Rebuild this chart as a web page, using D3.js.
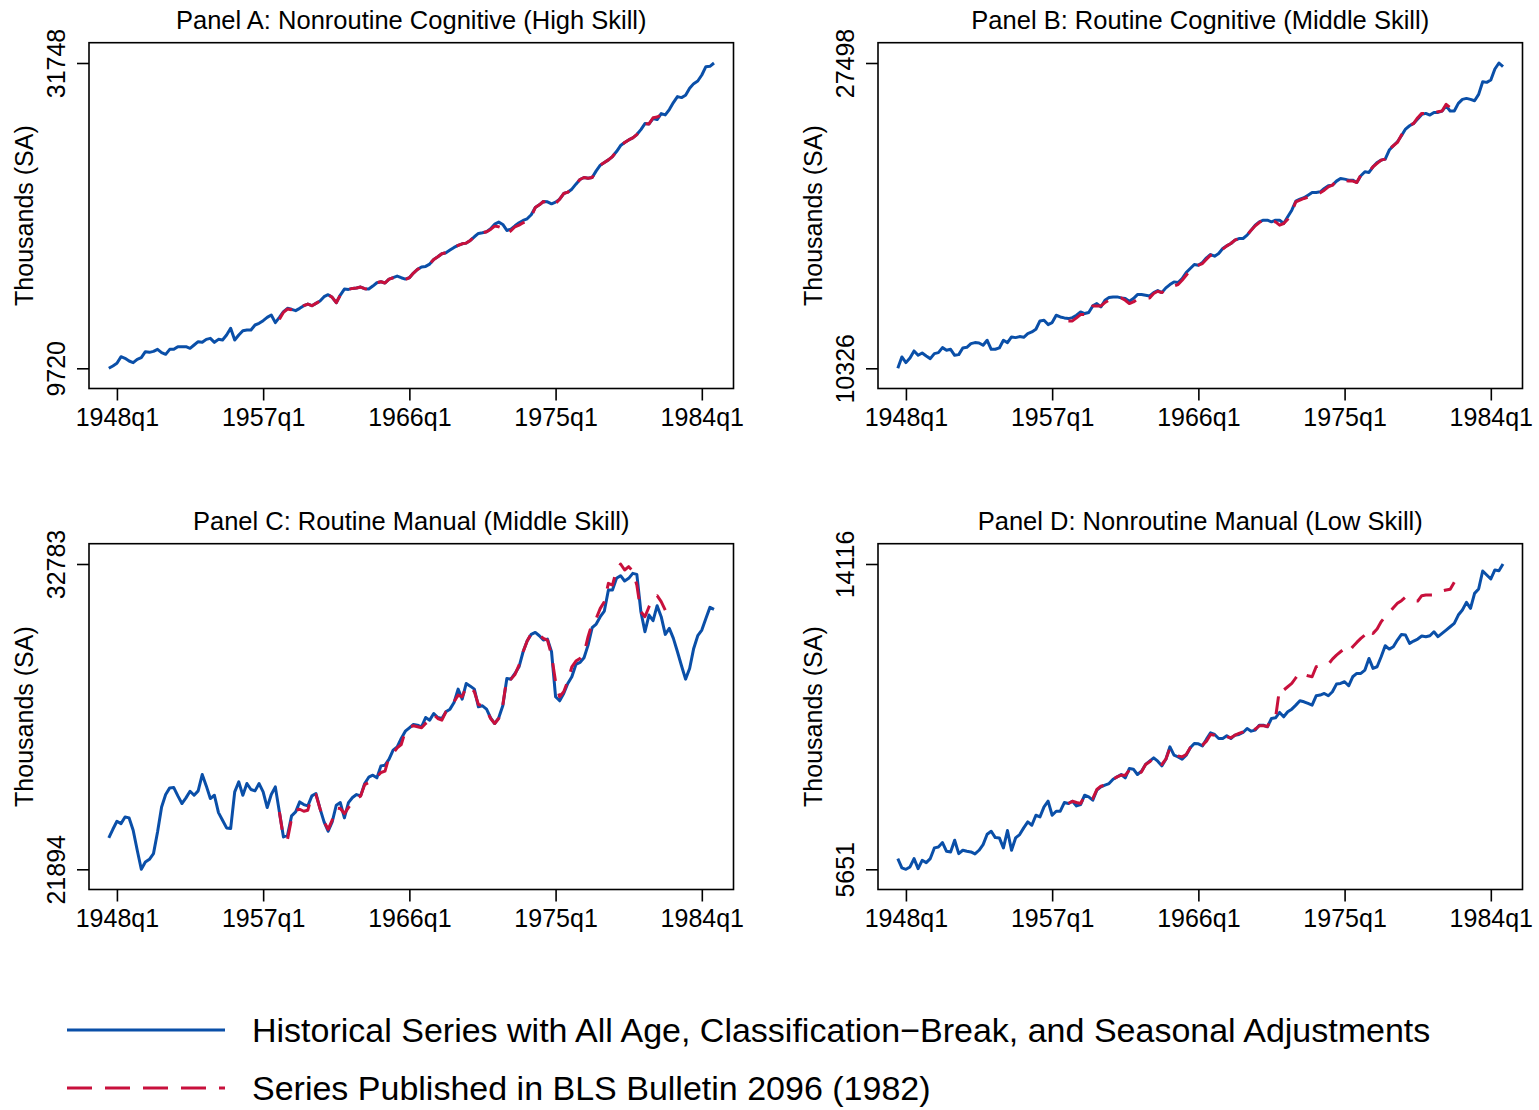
<!DOCTYPE html>
<meta charset="utf-8">
<script src="https://d3js.org/d3.v7.min.js"></script>
<body style="margin:0;background:#fff">
<div id="chart"></div>
<script>

// quarterly series: historical runs 1947q3-1984q4, bulletin runs 1958q1-1981q4
var histStart = 1947.5;
var blsStart = 1958.0;

var panelTitles = [
  "Panel A: Nonroutine Cognitive (High Skill)",
  "Panel B: Routine Cognitive (Middle Skill)",
  "Panel C: Routine Manual (Middle Skill)",
  "Panel D: Nonroutine Manual (Low Skill)"
];
var xTickYears = [1948, 1957, 1966, 1975, 1984];
var yTicksA = [9720, 31748];
var yTicksB = [10326, 27498];
var yTicksC = [21894, 32783];
var yTicksD = [5651, 14116];
var yTitle = "Thousands (SA)";
var legendLabels = [
  "Historical Series with All Age, Classification\u2212Break, and Seasonal Adjustments",
  "Series Published in BLS Bulletin 2096 (1982)"
];

// Panel A
var histA = [9720, 9886, 10078, 10559, 10439, 10247, 10127, 10367, 10487, 10920,
  10872, 10944, 11089, 10848, 10728, 11089, 11089, 11281, 11281, 11281,
  11161, 11401, 11642, 11594, 11810, 11882, 11594, 11810, 11762, 12123,
  12604, 11762, 12123, 12435, 12483, 12483, 12844, 12964, 13157, 13397,
  13566, 13013, 13397, 13806, 14047, 13975, 13878, 14047, 14237, 14358,
  14237, 14406, 14574, 14886, 15030, 14838, 14454, 15006, 15438, 15414,
  15486, 15510, 15583, 15462, 15438, 15655, 15895, 15967, 15871, 16159,
  16255, 16375, 16255, 16159, 16255, 16591, 16856, 17024, 17072, 17240,
  17576, 17768, 17985, 18057, 18249, 18441, 18585, 18705, 18753, 18945,
  19210, 19450, 19498, 19570, 19786, 20122, 20266, 20098, 19666, 19762,
  20002, 20218, 20387, 20507, 20795, 21323, 21515, 21756, 21732, 21588,
  21708, 21924, 22332, 22428, 22644, 23005, 23341, 23485, 23437, 23485,
  23966, 24374, 24566, 24758, 24998, 25359, 25791, 26007, 26199, 26343,
  26584, 26944, 27376, 27352, 27737, 27665, 28097, 28001, 28385, 28890,
  29322, 29250, 29418, 29922, 30259, 30451, 30883, 31484, 31508, 31748];
var blsA = [13253, 13760, 14000, 13950, 13830, 14000, 14237, 14358, 14237, 14406,
  14574, 14886, 15030, 14838, 14454, 15006, 15438, 15414, 15486, 15510,
  15583, 15462, 15438, 15655, 15895, 15967, 15871, 16159, 16255, 16330,
  16200, 16120, 16255, 16591, 16856, 17024, 17072, 17240, 17576, 17768,
  17985, 18057, 18249, 18441, 18585, 18705, 18753, 18945, 19210, 19450,
  19498, 19570, 19740, 19978, 19930, 19810, 19450, 19642, 19930, 20051,
  20218, 20338, 20651, 21323, 21515, 21756, 21564, 21443, 21612, 21924,
  22332, 22428, 22644, 23005, 23341, 23485, 23437, 23485, 23966, 24374,
  24566, 24758, 24998, 25359, 25791, 26007, 26199, 26343, 26584, 26944,
  27376, 27352, 27800, 27850, 28000, 28240];

// Panel B
var histB = [10326, 10964, 10645, 10908, 11302, 11058, 11189, 11020, 10870, 11152,
  11208, 11489, 11339, 11395, 11058, 11095, 11471, 11508, 11715, 11771,
  11752, 11621, 11902, 11395, 11395, 11471, 11902, 11771, 12090, 12052,
  12109, 12071, 12278, 12371, 12522, 12991, 13028, 12784, 12897, 13310,
  13216, 13160, 13122, 13178, 13310, 13497, 13404, 13460, 13835, 13967,
  13779, 14154, 14304, 14342, 14342, 14286, 14248, 14098, 14248, 14473,
  14473, 14436, 14398, 14586, 14698, 14586, 14849, 15036, 15186, 15149,
  15374, 15712, 15937, 16162, 16125, 16275, 16538, 16725, 16632, 16782,
  17063, 17213, 17345, 17532, 17626, 17626, 17814, 18095, 18377, 18564,
  18658, 18658, 18564, 18658, 18658, 18471, 18846, 19221, 19728, 19841,
  19916, 20066, 20216, 20216, 20254, 20441, 20591, 20629, 20854, 21004,
  20967, 20910, 20910, 20779, 21154, 21380, 21342, 21661, 21905, 22036,
  22093, 22599, 22843, 23069, 23406, 23782, 23969, 24101, 24345, 24607,
  24664, 24570, 24720, 24720, 24795, 25095, 24795, 24795, 25227, 25452,
  25508, 25452, 25377, 25733, 26447, 26409, 26540, 27160, 27498, 27291];
var blsB = [12991, 12991, 13160, 13347, 13347, 13347, 13835, 13835, 13835, 14023,
  14154, 14211, 14248, 14286, 14154, 13967, 14060, 14211, 14248, 14286,
  14286, 14530, 14661, 14586, 14717, 14849, 14961, 15036, 15280, 15562,
  15843, 16031, 16125, 16219, 16463, 16688, 16688, 16782, 17026, 17213,
  17345, 17532, 17626, 17626, 17814, 18095, 18339, 18527, 18658, 18602,
  18564, 18564, 18377, 18471, 18715, 19128, 19691, 19784, 19878, 19953,
  20066, 20103, 20197, 20347, 20535, 20629, 20854, 20910, 20892, 20854,
  20854, 20779, 21192, 21342, 21380, 21661, 21849, 22036, 22093, 22656,
  22843, 23031, 23444, 23782, 23969, 24101, 24420, 24664, 24664, 24607,
  24720, 24758, 24795, 25170, 24983, 24851];

// Panel C
var histC = [23013, 23322, 23608, 23524, 23762, 23727, 23286, 22572, 21894, 22156,
  22251, 22454, 23227, 24119, 24560, 24798, 24810, 24512, 24239, 24441,
  24679, 24536, 24691, 25274, 24869, 24417, 24536, 23917, 23644, 23370,
  23346, 24655, 25012, 24536, 24953, 24739, 24691, 24953, 24655, 24096,
  24560, 24834, 23941, 23049, 23108, 23798, 23941, 24298, 24203, 24155,
  24512, 24596, 24060, 23584, 23251, 23584, 24179, 24274, 23727, 24274,
  24453, 24560, 24512, 24953, 25179, 25250, 25155, 25583, 25607, 25821,
  26143, 26262, 26559, 26821, 26940, 27059, 27035, 26976, 27309, 27214,
  27452, 27309, 27273, 27511, 27606, 27844, 28320, 27963, 28522, 28427,
  28320, 27690, 27725, 27606, 27297, 27094, 27297, 27725, 28701, 28677,
  28879, 29117, 29653, 30034, 30272, 30343, 30224, 30070, 30105, 29653,
  28047, 27904, 28166, 28522, 28761, 29201, 29272, 29439, 29891, 30510,
  30641, 30903, 31105, 31855, 31855, 32271, 32366, 32176, 32271, 32450,
  32414, 31081, 30367, 30962, 30760, 31295, 30903, 30272, 30486, 30129,
  29653, 29153, 28677, 29058, 29772, 30224, 30426, 30843, 31236, 31164];
var blsC = [23941, 23013, 22965, 23703, 24001, 24036, 23965, 24001, 24536, 24560,
  24060, 23584, 23322, 23644, 24084, 24060, 23882, 24096, 24298, 24417,
  24512, 24917, 24988, 25060, 25191, 25345, 25393, 25905, 26024, 26226,
  26345, 26821, 26976, 27011, 26976, 26940, 27094, 27214, 27416, 27273,
  27214, 27511, 27606, 27868, 28106, 28047, 28403, 28403, 28225, 27773,
  27725, 27571, 27273, 27094, 27273, 27749, 28725, 28677, 28844, 29177,
  29653, 30034, 30308, 30308, 30248, 30129, 30070, 29534, 28582, 28047,
  28225, 28606, 29117, 29320, 29415, 29594, 30189, 30664, 30843, 31200,
  31438, 32093, 32033, 32569, 32783, 32569, 32688, 32533, 32033, 31081,
  30903, 31259, 31557, 31652, 31438, 31140];

// Panel D
var histD = [5948, 5689, 5651, 5716, 5948, 5670, 5901, 5837, 5948, 6244,
  6271, 6392, 6151, 6133, 6456, 6086, 6179, 6151, 6133, 6077,
  6179, 6336, 6623, 6706, 6530, 6521, 6244, 6725, 6179, 6521,
  6614, 6799, 6965, 6873, 7150, 7104, 7381, 7539, 7150, 7261,
  7261, 7502, 7474, 7539, 7409, 7446, 7705, 7659, 7567, 7844,
  7937, 7983, 8029, 8149, 8214, 8279, 8186, 8445, 8427, 8279,
  8371, 8556, 8649, 8741, 8649, 8519, 8704, 9047, 8815, 8769,
  8704, 8815, 9019, 9139, 9130, 9074, 9259, 9435, 9389, 9278,
  9278, 9352, 9278, 9370, 9389, 9444, 9555, 9481, 9509, 9648,
  9648, 9602, 9833, 9852, 10000, 9879, 10018, 10092, 10203, 10323,
  10296, 10249, 10203, 10462, 10481, 10527, 10462, 10573, 10786, 10804,
  10851, 10740, 10989, 11082, 11082, 11174, 11498, 11221, 11267, 11544,
  11850, 11757, 11822, 12007, 12164, 12146, 11914, 11979, 12035, 12118,
  12100, 12127, 12238, 12100, 12192, 12285, 12377, 12470, 12701, 12840,
  13052, 12886, 13302, 13422, 13922, 13811, 13700, 13950, 13931, 14116];
var blsD = [7474, 7539, 7502, 7474, 7687, 7705, 7613, 7863, 7955, 7983,
  8075, 8149, 8214, 8260, 8260, 8399, 8353, 8260, 8353, 8556,
  8630, 8751, 8677, 8556, 8704, 9019, 8889, 8797, 8769, 8834,
  9019, 9130, 9130, 9093, 9204, 9389, 9370, 9297, 9297, 9324,
  9297, 9370, 9417, 9463, 9555, 9481, 9537, 9629, 9629, 9611,
  9815, 9852, 10666, 10619, 10712, 10804, 10962, 11110, 11054, 11017,
  10989, 11267, 11295, 11332, 11332, 11480, 11591, 11683, 11776, 11683,
  11822, 11942, 12053, 12146, 12312, 12192, 12312, 12516, 12655, 12775,
  12904, 13025, 13099, 13200, 13163, 13089, 13089, 13237, 13256, 13256,
  13256, 13330, 13367, 13395, 13413, 13607];

var panels = [
  {title: panelTitles[0], hist: histA, bls: blsA, ticks: yTicksA, ox: 0, oy: 0},
  {title: panelTitles[1], hist: histB, bls: blsB, ticks: yTicksB, ox: 789, oy: 0},
  {title: panelTitles[2], hist: histC, bls: blsC, ticks: yTicksC, ox: 0, oy: 501},
  {title: panelTitles[3], hist: histD, bls: blsD, ticks: yTicksD, ox: 789, oy: 501}
];

var blue = "#0a4fa8", red = "#c8103c";
var font = "'Liberation Sans', Arial, Helvetica, sans-serif";

// box of one panel (panel-local coords)
var box = {left: 89, right: 733.5, top: 42.7, bottom: 388.5};

var svg = d3.select("#chart").append("svg")
  .attr("width", 1539)
  .attr("height", 1110)
  .style("font-family", font);

panels.forEach(function(p) {
  var g = svg.append("g").attr("transform", "translate(" + p.ox + "," + p.oy + ")");

  var x = d3.scaleLinear()
    .domain([histStart, histStart + (p.hist.length - 1) / 4])
    .range([108.8, 714]);
  var y = d3.scaleLinear()
    .domain(p.ticks)
    .range([368.3, 63]);

  // frame
  g.append("rect")
    .attr("x", box.left).attr("y", box.top)
    .attr("width", box.right - box.left).attr("height", box.bottom - box.top)
    .attr("fill", "none").attr("stroke", "#000").attr("stroke-width", 1.6);

  // x axis
  g.append("g")
    .attr("transform", "translate(0," + box.bottom + ")")
    .call(d3.axisBottom(x).tickValues(xTickYears)
      .tickFormat(function(d) { return d + "q1"; })
      .tickSize(12).tickPadding(8).tickSizeOuter(0))
    .call(function(a) { a.select(".domain").remove(); })
    .attr("font-family", font).attr("font-size", 25)
    .selectAll("line").attr("stroke-width", 1.6);

  // y axis, labels turned vertical
  var ya = g.append("g")
    .attr("transform", "translate(" + box.left + ",0)")
    .call(d3.axisLeft(y).tickValues(p.ticks).tickFormat(d3.format("d"))
      .tickSize(12).tickSizeOuter(0))
    .attr("font-family", font).attr("font-size", 25);
  ya.select(".domain").remove();
  ya.selectAll("line").attr("stroke-width", 1.6);
  ya.selectAll("text")
    .attr("x", 0).attr("dy", 0)
    .attr("text-anchor", "middle")
    .attr("transform", "translate(-24,0) rotate(-90)");

  // titles
  g.append("text")
    .attr("x", (box.left + box.right) / 2).attr("y", 29)
    .attr("text-anchor", "middle").attr("font-size", 25.5)
    .text(p.title);
  g.append("text")
    .attr("transform", "translate(33," + (box.top + box.bottom) / 2 + ") rotate(-90)")
    .attr("text-anchor", "middle").attr("font-size", 25)
    .text(yTitle);

  var lineHist = d3.line()
    .x(function(d, i) { return x(histStart + i / 4); })
    .y(function(d) { return y(d); });
  var lineBls = d3.line()
    .x(function(d, i) { return x(blsStart + i / 4); })
    .y(function(d) { return y(d); });

  g.append("path").datum(p.hist)
    .attr("d", lineHist)
    .attr("fill", "none").attr("stroke", blue)
    .attr("stroke-width", 3).attr("stroke-linejoin", "round");
  g.append("path").datum(p.bls)
    .attr("d", lineBls)
    .attr("fill", "none").attr("stroke", red)
    .attr("stroke-width", 3).attr("stroke-linejoin", "round")
    .attr("stroke-dasharray", "18,13");
});

// legend
var legend = svg.append("g");
[blue, red].forEach(function(c, i) {
  var ly = 1030 + i * 58;
  legend.append("line")
    .attr("x1", 67).attr("x2", 225).attr("y1", ly).attr("y2", ly)
    .attr("stroke", c).attr("stroke-width", 3.2)
    .attr("stroke-dasharray", i == 1 ? "25,13" : null);
  legend.append("text")
    .attr("x", 252).attr("y", ly + 12)
    .attr("font-size", 34)
    .text(legendLabels[i]);
});

</script>
</body>
